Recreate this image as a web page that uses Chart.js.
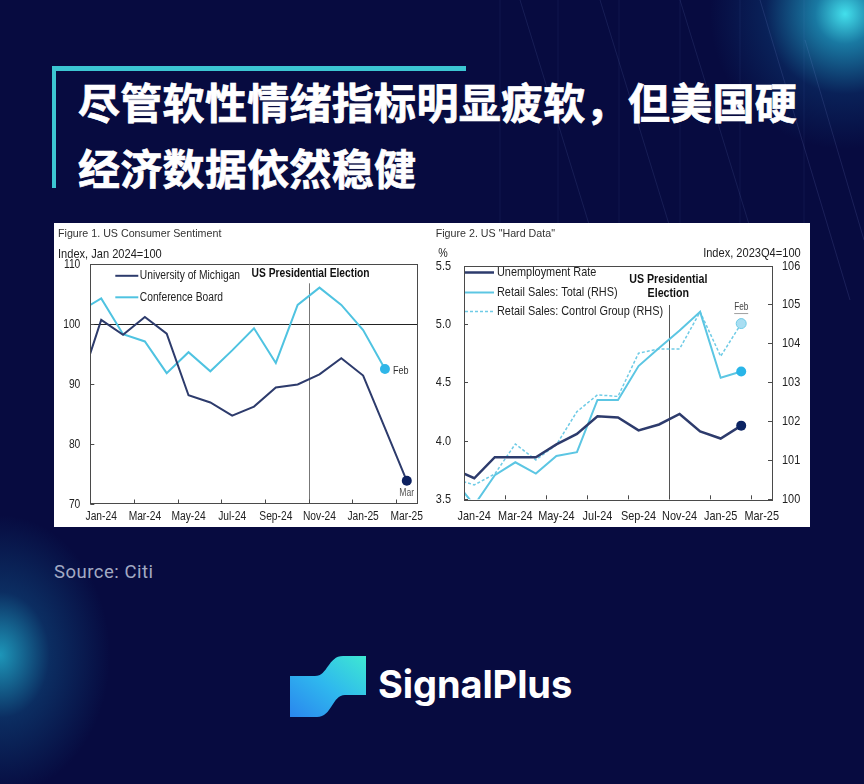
<!DOCTYPE html>
<html lang="zh-CN">
<head>
<meta charset="utf-8">
<title>SignalPlus - US soft vs hard data</title>
<script src="https://cdn.jsdelivr.net/npm/chart.js@4.4.1/dist/chart.umd.min.js"></script>
<style>
  html, body { margin: 0; padding: 0; }
  body {
    width: 864px; height: 784px; overflow: hidden; position: relative;
    background:
      radial-gradient(circle at 845px 14px, rgba(70,235,245,0.95) 0, rgba(35,180,215,0.65) 30px, rgba(15,90,150,0.28) 80px, rgba(7,11,64,0) 135px),
      radial-gradient(ellipse 110px 140px at 0px 655px, rgba(35,185,215,0.8) 0, rgba(20,110,160,0.35) 45%, rgba(7,11,64,0) 100%),
      #070b40;
    font-family: 'Noto Sans CJK SC', 'Noto Sans', sans-serif;
  }
  .lines { position: absolute; left: 0; top: 0; }
  .bar-h { position: absolute; left: 52px; top: 66px; width: 414px; height: 5px; background: #3cc6d3; }
  .bar-v { position: absolute; left: 52px; top: 66px; width: 4px; height: 122px; background: #3cc6d3; }
  .title {
    position: absolute; left: 78px; top: 68px; margin: 0;
    font-size: 42px; line-height: 66px; font-weight: 700; color: #fff; letter-spacing: 0.3px;
    -webkit-text-stroke: 0.7px #fff;
  }
  .panel { position: absolute; left: 54px; top: 223px; width: 756px; height: 304px; background: #fff; }
  .chart { position: absolute; top: 223px; }
  #wrap1 { left: 54px; z-index: 2; }
  #wrap2 { left: 424px; z-index: 1; }
  .source {
    position: absolute; left: 54px; top: 560px; line-height: 24px;
    font-family: Roboto, 'Noto Sans', sans-serif; font-size: 18.5px; letter-spacing: 0.5px; color: #a3aac4;
  }
  .logo-icon { position: absolute; left: 288px; top: 654px; }
  .logo-text {
    position: absolute; left: 378px; top: 660px;
    font-family: Inter, 'Noto Sans', sans-serif; font-weight: 700; font-size: 38px; line-height: 48px; color: #fff;
    letter-spacing: -0.1px;
  }
</style>
</head>
<body>
<svg class="lines" width="864" height="320">
  <g stroke="#9fb4ff" stroke-width="1" fill="none">
    <line x1="500" y1="0" x2="500" y2="225" stroke-opacity="0.07"/>
    <line x1="558" y1="0" x2="558" y2="225" stroke-opacity="0.07"/>
    <line x1="619" y1="0" x2="619" y2="225" stroke-opacity="0.07"/>
    <line x1="680" y1="0" x2="680" y2="225" stroke-opacity="0.07"/>
    <line x1="740" y1="0" x2="740" y2="225" stroke-opacity="0.07"/>
    <line x1="804" y1="0" x2="804" y2="225" stroke-opacity="0.07"/>
    <line x1="520" y1="0" x2="600" y2="260" stroke-opacity="0.11"/>
    <line x1="600" y1="0" x2="680" y2="260" stroke-opacity="0.11"/>
    <line x1="680" y1="0" x2="760" y2="260" stroke-opacity="0.11"/>
    <line x1="760" y1="0" x2="850" y2="300" stroke-opacity="0.13"/>
    <line x1="805" y1="40" x2="864" y2="240" stroke-opacity="0.13"/>
  </g>
</svg>
<div class="bar-h"></div>
<div class="bar-v"></div>
<h1 class="title">尽管软性情绪指标明显疲软，但美国硬<br>经济数据依然稳健</h1>

<div class="panel"></div>
<div class="chart" id="wrap1"><canvas id="sentiment" width="374" height="304"></canvas></div>
<div class="chart" id="wrap2"><canvas id="hardData" width="386" height="304"></canvas></div>

<div class="source">Source: Citi</div>

<svg class="logo-icon" width="82" height="66" viewBox="0 0 82 66">
  <defs>
    <linearGradient id="lg" x1="0" y1="1" x2="1" y2="0">
      <stop offset="0" stop-color="#2a86ee"/>
      <stop offset="0.5" stop-color="#2fb8ee"/>
      <stop offset="1" stop-color="#3ee8d2"/>
    </linearGradient>
  </defs>
  <path d="M2,22 L27,22 C40,22 40,2 55,2 L78,2 L78,41 L57,41 C44,41 44,63 29,63 L2,63 Z" fill="url(#lg)"/>
</svg>
<div class="logo-text">SignalPlus</div>

<script>
// ---- data ----
const months = ['Dec-23', 'Jan-24', 'Feb-24', 'Mar-24', 'Apr-24', 'May-24', 'Jun-24', 'Jul-24',
  'Aug-24', 'Sep-24', 'Oct-24', 'Nov-24', 'Dec-24', 'Jan-25', 'Feb-25', 'Mar-25'];
const tickLabels = ['Jan-24', 'Mar-24', 'May-24', 'Jul-24', 'Sep-24', 'Nov-24', 'Jan-25', 'Mar-25'];

// Figure 1: index, Jan 2024 = 100
const michigan = [89.5, 100.7, 98.2, 101.2, 98.4, 88.1, 86.9, 84.7, 86.2, 89.4, 89.9, 91.6, 94.3, 91.4, 82.6, 73.8];
const conferenceBoard = [102.1, 104.3, 98.3, 97.1, 91.8, 95.3, 92.1, 95.6, 99.3, 93.5, 103.2, 106.1, 103.2, 99.0, 92.5, null];

// Figure 2: unemployment (%), retail sales (index, 2023Q4 = 100)
const unemployment = [3.76, 3.68, 3.86, 3.86, 3.86, 3.97, 4.06, 4.21, 4.20, 4.09, 4.14, 4.23, 4.08, 4.02, 4.13, null];
const retailTotal = [100.51, 99.85, 100.62, 100.95, 100.66, 101.11, 101.21, 102.55, 102.55, 103.42, 103.88, 104.33, 104.81, 103.12, 103.28, null];
const retailControl = [100.53, 100.37, 100.65, 101.42, 101.01, 101.40, 102.25, 102.68, 102.64, 103.75, 103.86, 103.86, 104.81, 103.67, 104.51, null];

const electionAt = 9.5; // early Nov-24, on the month axis (Jan-24 = 0)

// ---- helpers ----
// no narrow font installed: Liberation Sans squeezed to Arial Narrow width
const SANS = "'Liberation Sans', Arial, sans-serif";
const SQ = 0.82;
const NAVY = '#2d3b6c';
const CYAN = '#4fc3e1';

const monthPos = m => months.indexOf(m) - 1;
const points = vals => vals.map((v, i) => ({ x: i - 1, y: v }));
const lastIndex = vals => { let k = -1; vals.forEach((v, i) => { if (v !== null) k = i; }); return k; };
const endDot = (vals, r) => ctx => ctx.dataIndex === lastIndex(vals) ? r : 0;

function seg(ctx, x1, y1, x2, y2) {
  ctx.beginPath(); ctx.moveTo(x1, y1); ctx.lineTo(x2, y2); ctx.stroke();
}
function text(ctx, str, x, y, font, color, align, sx) {
  ctx.save();
  ctx.font = `${font} ${SANS}`; ctx.fillStyle = color; ctx.textAlign = align || 'left'; ctx.textBaseline = 'middle';
  ctx.translate(x, y); ctx.scale(sx || SQ, 1);
  ctx.fillText(str, 0, 0);
  ctx.restore();
}
function axes(chart, yIds, size, xLabelGap) {
  const { ctx, chartArea: a, scales } = chart;
  ctx.save();
  ctx.strokeStyle = '#4a4a4a'; ctx.lineWidth = 1;
  ctx.strokeRect(Math.round(a.left) + 0.5, Math.round(a.top) + 0.5, Math.round(a.right - a.left), Math.round(a.bottom - a.top));
  scales.x.ticks.forEach(t => {
    const px = Math.round(scales.x.getPixelForValue(t.value - 0.5)) + 0.5;
    seg(ctx, px, a.bottom, px, a.bottom - 4);
    text(ctx, months[t.value + 1], scales.x.getPixelForValue(t.value), a.bottom + xLabelGap, `${size}px`, '#222', 'center');
  });
  yIds.forEach(({ id, gap, fmt }) => {
    const s = scales[id];
    s.ticks.forEach(t => {
      const py = Math.round(s.getPixelForValue(t.value)) + 0.5;
      const lab = fmt ? fmt(t.value) : String(t.value);
      if (s.position === 'left') {
        seg(ctx, a.left, py, a.left + 4, py);
        text(ctx, lab, a.left - gap, py, `${size}px`, '#222', 'right');
      } else {
        seg(ctx, a.right, py, a.right - 4, py);
        text(ctx, lab, a.right + gap, py, `${size}px`, '#222', 'left');
      }
    });
  });
  ctx.restore();
}
function xScale(height) {
  return {
    type: 'linear', min: -0.5, max: 14.5,
    afterBuildTicks: s => { s.ticks = tickLabels.map(m => ({ value: monthPos(m) })); },
    afterFit: s => { s.height = height; s.paddingLeft = 0; s.paddingRight = 0; },
    grid: { display: false, drawTicks: false }, border: { display: false },
    ticks: { display: false }
  };
}
function yScale(pos, min, max, step, width) {
  return {
    position: pos, min: min, max: max,
    afterFit: s => { s.width = width; s.paddingTop = 0; s.paddingBottom = 0; },
    grid: { display: false, drawTicks: false }, border: { display: false },
    ticks: { stepSize: step, display: false }
  };
}

// ---- Figure 1 ----
const sentimentDeco = {
  id: 'sentimentDeco',
  beforeDatasetsDraw(chart) {
    const { ctx, chartArea: a, scales: { x, y } } = chart;
    ctx.save();
    ctx.strokeStyle = '#222'; ctx.lineWidth = 1;
    const py = Math.round(y.getPixelForValue(100)) + 0.5;
    seg(ctx, a.left, py, a.right, py);
    ctx.strokeStyle = '#777';
    const ex = Math.round(x.getPixelForValue(electionAt)) + 0.5;
    seg(ctx, ex, a.top + 19, ex, a.bottom);
    ctx.restore();
  },
  afterDraw(chart) {
    const { ctx, chartArea: a, scales: { x, y } } = chart;
    axes(chart, [{ id: 'y', gap: 10 }], 12.5, 13.5);
    ctx.save();
    text(ctx, 'Figure 1. US Consumer Sentiment', 4, 11, '10.7px', '#333', 'left', 1);
    text(ctx, 'Index, Jan 2024=100', 4, 31, '13.5px', '#222');
    // legend
    ctx.lineWidth = 2;
    ctx.strokeStyle = NAVY; seg(ctx, a.left + 25, a.top + 11.5, a.left + 48, a.top + 11.5);
    ctx.strokeStyle = CYAN; seg(ctx, a.left + 25, a.top + 33, a.left + 48, a.top + 33);
    text(ctx, 'University of Michigan', a.left + 49.5, a.top + 11.5, '12.5px', '#222');
    text(ctx, 'Conference Board', a.left + 49.5, a.top + 33, '12.5px', '#222');
    text(ctx, 'US Presidential Election', x.getPixelForValue(electionAt) + 2, a.top + 9.5, 'bold 12.5px', '#111', 'center');
    // end labels
    const cb = lastIndex(conferenceBoard), mi = lastIndex(michigan);
    text(ctx, 'Feb', x.getPixelForValue(cb - 1) + 8, y.getPixelForValue(conferenceBoard[cb]) + 2, '11px', '#333');
    text(ctx, 'Mar', x.getPixelForValue(mi - 1), y.getPixelForValue(michigan[mi]) + 12, '10.5px', '#555', 'center');
    ctx.restore();
  }
};

new Chart(document.getElementById('sentiment'), {
  type: 'line',
  data: {
    datasets: [
      { label: 'University of Michigan', data: points(michigan), borderColor: NAVY, borderWidth: 2,
        pointRadius: endDot(michigan, 5), pointBackgroundColor: '#0d2160', pointBorderWidth: 0, tension: 0 },
      { label: 'Conference Board', data: points(conferenceBoard), borderColor: CYAN, borderWidth: 2,
        pointRadius: endDot(conferenceBoard, 5), pointBackgroundColor: '#2fb6e8', pointBorderWidth: 0, tension: 0 }
    ]
  },
  options: {
    responsive: false, animation: false, devicePixelRatio: 1,
    layout: { autoPadding: false, padding: { top: 41.3, right: 10.3, left: 0, bottom: 0 } },
    plugins: { legend: { display: false }, tooltip: { enabled: false } },
    scales: {
      x: xScale(23.5),
      y: yScale('left', 70, 110, 10, 36.3)
    }
  },
  plugins: [sentimentDeco]
});

// ---- Figure 2 ----
const hardDeco = {
  id: 'hardDeco',
  beforeDatasetsDraw(chart) {
    const { ctx, chartArea: a, scales: { x } } = chart;
    ctx.save();
    ctx.strokeStyle = '#555'; ctx.lineWidth = 1;
    const ex = Math.round(x.getPixelForValue(electionAt)) + 0.5;
    seg(ctx, ex, a.top + 39.5, ex, a.bottom);
    ctx.restore();
  },
  afterDraw(chart) {
    const { ctx, chartArea: a, scales: { x, y2 } } = chart;
    axes(chart, [{ id: 'y', gap: 13, fmt: v => v.toFixed(1) }, { id: 'y2', gap: 10 }], 13.3, 16.7);
    ctx.save();
    text(ctx, 'Figure 2. US "Hard Data"', 11.7, 11, '10.7px', '#333', 'left', 1);
    text(ctx, '%', 19, 30.5, '13px', '#222', 'center');
    text(ctx, 'Index, 2023Q4=100', 376.7, 30.5, '13.5px', '#222', 'right');
    // legend
    const lx1 = a.left + 1, lx2 = a.left + 30, tx = a.left + 33;
    ctx.lineWidth = 2.5; ctx.strokeStyle = NAVY; seg(ctx, lx1, a.top + 7, lx2, a.top + 7);
    ctx.lineWidth = 2; ctx.strokeStyle = '#5cc6e3'; seg(ctx, lx1, a.top + 27, lx2, a.top + 27);
    ctx.lineWidth = 1.5; ctx.strokeStyle = '#6fcbe6'; ctx.setLineDash([3, 2]);
    seg(ctx, lx1, a.top + 46, lx2, a.top + 46); ctx.setLineDash([]);
    text(ctx, 'Unemployment Rate', tx, a.top + 7, '13.3px', '#222');
    text(ctx, 'Retail Sales: Total (RHS)', tx, a.top + 27, '13.3px', '#222');
    text(ctx, 'Retail Sales: Control Group (RHS)', tx, a.top + 46, '13.3px', '#222');
    const ex = x.getPixelForValue(electionAt);
    text(ctx, 'US Presidential', ex - 1, a.top + 14.2, 'bold 13px', '#111', 'center');
    text(ctx, 'Election', ex - 1, a.top + 28.2, 'bold 13px', '#111', 'center');
    const k = lastIndex(retailControl);
    const fx = x.getPixelForValue(k - 1), fy = y2.getPixelForValue(retailControl[k]) - 16;
    text(ctx, 'Feb', fx, fy, '10px', '#444', 'center');
    ctx.strokeStyle = '#888'; ctx.lineWidth = 0.8; seg(ctx, fx - 7, fy + 6, fx + 7, fy + 6);
    ctx.restore();
  }
};

new Chart(document.getElementById('hardData'), {
  type: 'line',
  data: {
    datasets: [
      { label: 'Unemployment Rate', data: points(unemployment), yAxisID: 'y', borderColor: NAVY, borderWidth: 2.5,
        pointRadius: endDot(unemployment, 5), pointBackgroundColor: '#0c2463', pointBorderWidth: 0, tension: 0 },
      { label: 'Retail Sales: Total (RHS)', data: points(retailTotal), yAxisID: 'y2', borderColor: '#5cc6e3', borderWidth: 2,
        pointRadius: endDot(retailTotal, 5), pointBackgroundColor: '#29b5e8', pointBorderWidth: 0, tension: 0 },
      { label: 'Retail Sales: Control Group (RHS)', data: points(retailControl), yAxisID: 'y2', borderColor: '#6fcbe6',
        borderWidth: 1.5, borderDash: [3, 2], pointRadius: endDot(retailControl, 5), pointBackgroundColor: '#a9def2',
        pointBorderColor: '#6fcbe6', pointBorderWidth: 1, tension: 0 }
    ]
  },
  options: {
    responsive: false, animation: false, devicePixelRatio: 1,
    layout: { autoPadding: false, padding: { top: 42.5, right: 0, left: 0, bottom: 0 } },
    plugins: { legend: { display: false }, tooltip: { enabled: false } },
    scales: {
      x: xScale(27.7),
      y: yScale('left', 3.5, 5.5, 0.5, 40),
      y2: yScale('right', 100, 106, 1, 38)
    }
  },
  plugins: [hardDeco]
});
</script>
</body>
</html>
